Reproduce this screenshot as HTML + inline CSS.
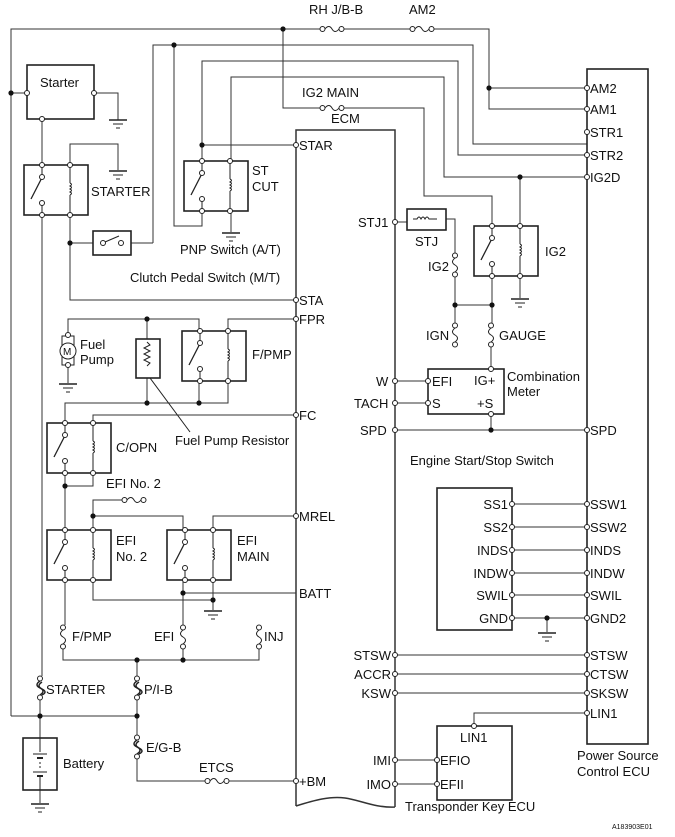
<!DOCTYPE html>
<html><head><meta charset="utf-8"><style>
html,body{margin:0;padding:0;background:#fff}
svg{display:block}
text{font-family:"Liberation Sans",sans-serif;font-size:13px;fill:#111}
</style></head><body>
<svg width="675" height="837" viewBox="0 0 675 837" xmlns="http://www.w3.org/2000/svg">
<defs>
<g id="relay">
<rect x="0" y="0" width="64" height="50" fill="none" stroke="#222" stroke-width="1.6"/>
<line x1="18" y1="0" x2="18" y2="9.5" stroke="#222"/>
<line x1="18" y1="40.5" x2="18" y2="50" stroke="#222"/>
<circle cx="18" cy="12" r="2.5" fill="#fff" stroke="#222"/>
<circle cx="18" cy="38" r="2.5" fill="#fff" stroke="#222"/>
<line x1="17" y1="14.5" x2="7" y2="34" stroke="#222" stroke-width="1.3"/>
<line x1="46" y1="0" x2="46" y2="18" stroke="#222"/>
<path d="M46 18 q3 1.5 0 3 q3 1.5 0 3 q3 1.5 0 3 q3 1.5 0 3" fill="none" stroke="#222"/>
<line x1="46" y1="30" x2="46" y2="50" stroke="#222"/>
<circle cx="18" cy="0" r="2.5" fill="#fff" stroke="#222"/>
<circle cx="46" cy="0" r="2.5" fill="#fff" stroke="#222"/>
<circle cx="18" cy="50" r="2.5" fill="#fff" stroke="#222"/>
<circle cx="46" cy="50" r="2.5" fill="#fff" stroke="#222"/>
</g>
<g id="fh"><circle cx="2.5" cy="0" r="2.5" fill="#fff" stroke="#222"/><path d="M5 0 q4 -5 7 0 t7 0" fill="none" stroke="#222"/><circle cx="21.5" cy="0" r="2.5" fill="#fff" stroke="#222"/></g>
<g id="fv"><circle cx="0" cy="2.5" r="2.5" fill="#fff" stroke="#222"/><path d="M0 5 q-5 4 0 7 t0 7" fill="none" stroke="#222"/><circle cx="0" cy="21.5" r="2.5" fill="#fff" stroke="#222"/></g>
<g id="fl"><circle cx="0" cy="2.5" r="2.5" fill="#fff" stroke="#222"/><path d="M0 5 q-6 4 0 7 t0 7 M2 6 q-6 4 0 7 t0 6" fill="none" stroke="#222" stroke-width="1.5"/><circle cx="0" cy="21.5" r="2.5" fill="#fff" stroke="#222"/></g>
<g id="gnd"><line x1="-9" y1="0" x2="9" y2="0" stroke="#222" stroke-width="1.6"/><line x1="-5" y1="4" x2="5" y2="4" stroke="#222"/><line x1="-2" y1="8" x2="2" y2="8" stroke="#222"/></g>
<circle id="t" r="2.5" fill="#fff" stroke="#222"/>
<circle id="d" r="2.6" fill="#111"/>
</defs>
<g fill="none" stroke="#333" stroke-width="1">
<path d="M11 716 V29 H320 M343 29 H410 M433 29 H489 V109 H587 M489 88 H587"/>
<path d="M283 29 V108 H320 M343 108 H424 V196 H492 V226"/>
<path d="M153 243 V45 H473 V144 H587"/>
<path d="M174 45 V226 H202 V211"/>
<path d="M202 161 V61 H458 V155 H587"/>
<path d="M231 161 V77 H444 V177 H587 M520 177 V226"/>
<path d="M11 93 H27 M94 93 H118 V120 M42 119 V165 M70 165 V144 H118 V170"/>
<path d="M42 215 V676 M70 215 V300 H296 M70 243 H93 M131 243 H153"/>
<path d="M202 145 H296 M231 211 V232"/>
<path d="M296 806 V130 H395 V807 M296 806 C315 800 330 796 345 798 C360 800 375 808 395 807" stroke-width="1.5"/>
<path d="M68 335 V319 H199 V331 M228 331 V319 H296 M147 319 V339 M147 378 V403 M65 423 V403 H228 V381 M199 381 V403 M68 365 V383"/>
<path d="M93 423 V415 H296 M65 473 V530 M93 473 V486 H65"/>
<path d="M93 530 V500 H122 M93 516 H183 V530 M213 530 V516 H296"/>
<path d="M65 580 V625 M93 580 V600 H213 V610 M213 580 V600 M183 580 V625 M183 593 H296"/>
<path d="M63 648 V660 H259 V648 M183 648 V660 M137 660 V676 M137 698 V735 M11 716 H137 M40 698 V738 M137 757 V781 H205 M228 781 H296 M40 790 V803"/>
<path d="M395 222 H407 M446 219 H455 V253 M455 277 V325 M492 276 V325 M455 305 H492 M520 276 V298 M491 345 V369"/>
<path d="M395 381 H428 M395 403 H428 M491 414 V430 M395 430 H587"/>
<path d="M512 504 H587 M512 527 H587 M512 550 H587 M512 573 H587 M512 595 H587 M512 618 H587 M547 618 V632"/>
<path d="M395 655 H587 M395 674 H587 M395 693 H587 M587 713 H474 V726 M395 760 H437 M395 784 H437"/>
</g>
<g fill="none" stroke="#222" stroke-width="1.6">
<rect x="27" y="65" width="67" height="54"/>
<rect x="93" y="231" width="38" height="24"/>
<rect x="136" y="339" width="24" height="39"/>
<rect x="407" y="209" width="39" height="21"/>
<rect x="428" y="369" width="76" height="45"/>
<rect x="437" y="488" width="75" height="142"/>
<rect x="587" y="69" width="61" height="675"/>
<rect x="437" y="726" width="75" height="74"/>
<rect x="23" y="738" width="34" height="52"/>
</g>
<use href="#relay" x="24" y="165"/>
<use href="#relay" x="184" y="161"/>
<use href="#relay" x="182" y="331"/>
<use href="#relay" x="47" y="423"/>
<use href="#relay" x="47" y="530"/>
<use href="#relay" x="167" y="530"/>
<use href="#relay" x="474" y="226"/>
<g stroke="#222" fill="none"><use href="#t" x="103" y="243"/><use href="#t" x="121" y="243"/><line x1="105" y1="242" x2="119" y2="236"/></g>
<g stroke="#222" fill="none"><rect x="62" y="336" width="12" height="29"/><circle cx="68" cy="351" r="8" fill="#fff"/></g>
<text x="63" y="355" style="font-size:10px">M</text>
<use href="#t" x="68" y="335"/><use href="#t" x="68" y="365"/>
<path d="M147 342 l3 3 -6 3 6 3 -6 3 6 3 -6 3 6 3 -3 3" fill="none" stroke="#222"/>
<line x1="150" y1="378" x2="190" y2="432" stroke="#222"/>
<path d="M413 219 h4 q2 -4 4 0 q2 -4 4 0 q2 -4 4 0 h8" fill="none" stroke="#222"/>
<g stroke="#222"><line x1="40" y1="738" x2="40" y2="752"/><line x1="33" y1="754" x2="47" y2="754"/><line x1="37" y1="758" x2="43" y2="758" stroke-width="2"/><line x1="40" y1="762" x2="40" y2="768" stroke-dasharray="2,2"/><line x1="33" y1="772" x2="47" y2="772"/><line x1="37" y1="776" x2="43" y2="776" stroke-width="2"/><line x1="40" y1="776" x2="40" y2="790"/></g>
<use href="#gnd" x="118" y="120"/><use href="#gnd" x="118" y="171"/><use href="#gnd" x="231" y="233"/>
<use href="#gnd" x="68" y="384"/><use href="#gnd" x="213" y="611"/><use href="#gnd" x="520" y="299"/>
<use href="#gnd" x="547" y="633"/><use href="#gnd" x="40" y="804"/>
<use href="#fh" x="320" y="29"/><use href="#fh" x="410" y="29"/><use href="#fh" x="320" y="108"/>
<use href="#fh" x="122" y="500"/><use href="#fh" x="205" y="781"/>
<use href="#fv" x="455" y="253"/><use href="#fv" x="455" y="323"/><use href="#fv" x="491" y="323"/>
<use href="#fv" x="63" y="625"/><use href="#fv" x="183" y="625"/><use href="#fv" x="259" y="625"/>
<use href="#fl" x="40" y="676"/><use href="#fl" x="137" y="676"/><use href="#fl" x="137" y="735"/>
<g>
<use href="#t" x="27" y="93"/><use href="#t" x="94" y="93"/><use href="#t" x="42" y="119"/>
<use href="#t" x="296" y="145"/><use href="#t" x="296" y="300"/><use href="#t" x="296" y="319"/><use href="#t" x="296" y="415"/><use href="#t" x="296" y="516"/><use href="#t" x="296" y="781"/>
<use href="#t" x="587" y="88"/><use href="#t" x="587" y="109"/><use href="#t" x="587" y="132"/><use href="#t" x="587" y="155"/><use href="#t" x="587" y="177"/>
<use href="#t" x="395" y="222"/><use href="#t" x="491" y="369"/><use href="#t" x="491" y="414"/>
<use href="#t" x="395" y="381"/><use href="#t" x="395" y="403"/><use href="#t" x="395" y="430"/><use href="#t" x="428" y="381"/><use href="#t" x="428" y="403"/><use href="#t" x="587" y="430"/>
<use href="#t" x="512" y="504"/><use href="#t" x="512" y="527"/><use href="#t" x="512" y="550"/><use href="#t" x="512" y="573"/><use href="#t" x="512" y="595"/><use href="#t" x="512" y="618"/>
<use href="#t" x="587" y="504"/><use href="#t" x="587" y="527"/><use href="#t" x="587" y="550"/><use href="#t" x="587" y="573"/><use href="#t" x="587" y="595"/><use href="#t" x="587" y="618"/>
<use href="#t" x="395" y="655"/><use href="#t" x="395" y="674"/><use href="#t" x="395" y="693"/><use href="#t" x="587" y="655"/><use href="#t" x="587" y="674"/><use href="#t" x="587" y="693"/><use href="#t" x="587" y="713"/>
<use href="#t" x="474" y="726"/><use href="#t" x="395" y="760"/><use href="#t" x="395" y="784"/><use href="#t" x="437" y="760"/><use href="#t" x="437" y="784"/>
</g>
<g>
<use href="#d" x="11" y="93"/><use href="#d" x="283" y="29"/><use href="#d" x="174" y="45"/><use href="#d" x="202" y="145"/><use href="#d" x="70" y="243"/>
<use href="#d" x="489" y="88"/><use href="#d" x="520" y="177"/><use href="#d" x="455" y="305"/><use href="#d" x="492" y="305"/>
<use href="#d" x="147" y="319"/><use href="#d" x="147" y="403"/><use href="#d" x="199" y="403"/><use href="#d" x="65" y="486"/><use href="#d" x="93" y="516"/>
<use href="#d" x="183" y="593"/><use href="#d" x="213" y="600"/><use href="#d" x="137" y="660"/><use href="#d" x="183" y="660"/>
<use href="#d" x="40" y="716"/><use href="#d" x="137" y="716"/><use href="#d" x="491" y="430"/><use href="#d" x="547" y="618"/>
</g>
<text x="309" y="14">RH J/B-B</text><text x="409" y="14">AM2</text>
<text x="302" y="97">IG2 MAIN</text><text x="331" y="123">ECM</text>
<text x="40" y="87">Starter</text><text x="91" y="196">STARTER</text>
<text x="252" y="175">ST</text><text x="252" y="191">CUT</text>
<text x="180" y="254">PNP Switch (A/T)</text><text x="130" y="282">Clutch Pedal Switch (M/T)</text>
<text x="299" y="150">STAR</text><text x="299" y="305">STA</text><text x="299" y="324">FPR</text><text x="299" y="420">FC</text><text x="299" y="521">MREL</text><text x="299" y="598">BATT</text><text x="299" y="786">+BM</text>
<text x="80" y="349">Fuel</text><text x="80" y="364">Pump</text><text x="252" y="359">F/PMP</text>
<text x="175" y="445">Fuel Pump Resistor</text><text x="116" y="452">C/OPN</text>
<text x="106" y="488">EFI No. 2</text>
<text x="116" y="545">EFI</text><text x="116" y="561">No. 2</text><text x="237" y="545">EFI</text><text x="237" y="561">MAIN</text>
<text x="72" y="641">F/PMP</text><text x="154" y="641">EFI</text><text x="264" y="641">INJ</text>
<text x="46" y="694">STARTER</text><text x="144" y="694">P/I-B</text><text x="146" y="752">E/G-B</text><text x="63" y="768">Battery</text><text x="199" y="772">ETCS</text>
<text x="590" y="93">AM2</text><text x="590" y="114">AM1</text><text x="590" y="137">STR1</text><text x="590" y="160">STR2</text><text x="590" y="182">IG2D</text>
<text x="358" y="227">STJ1</text><text x="415" y="246">STJ</text><text x="428" y="271">IG2</text><text x="545" y="256">IG2</text>
<text x="426" y="340">IGN</text><text x="499" y="340">GAUGE</text>
<text x="507" y="381">Combination</text><text x="507" y="396">Meter</text>
<text x="432" y="386">EFI</text><text x="432" y="408">S</text><text x="474" y="385">IG+</text><text x="477" y="408">+S</text>
<text x="376" y="386">W</text><text x="354" y="408">TACH</text><text x="360" y="435">SPD</text><text x="590" y="435">SPD</text>
<text x="410" y="465">Engine Start/Stop Switch</text>
<g text-anchor="end"><text x="508" y="509">SS1</text><text x="508" y="532">SS2</text><text x="508" y="555">INDS</text><text x="508" y="578">INDW</text><text x="508" y="600">SWIL</text><text x="508" y="623">GND</text>
<text x="391" y="660">STSW</text><text x="391" y="679">ACCR</text><text x="391" y="698">KSW</text><text x="391" y="765">IMI</text><text x="391" y="789">IMO</text></g>
<text x="590" y="509">SSW1</text><text x="590" y="532">SSW2</text><text x="590" y="555">INDS</text><text x="590" y="578">INDW</text><text x="590" y="600">SWIL</text><text x="590" y="623">GND2</text>
<text x="590" y="660">STSW</text><text x="590" y="679">CTSW</text><text x="590" y="698">SKSW</text><text x="590" y="718">LIN1</text>
<text x="460" y="742">LIN1</text><text x="440" y="765">EFIO</text><text x="440" y="789">EFII</text>
<text x="577" y="760">Power Source</text><text x="577" y="776">Control ECU</text>
<text x="405" y="811">Transponder Key ECU</text>
<text x="612" y="829" style="font-size:7px">A183903E01</text>
</svg>
</body></html>
